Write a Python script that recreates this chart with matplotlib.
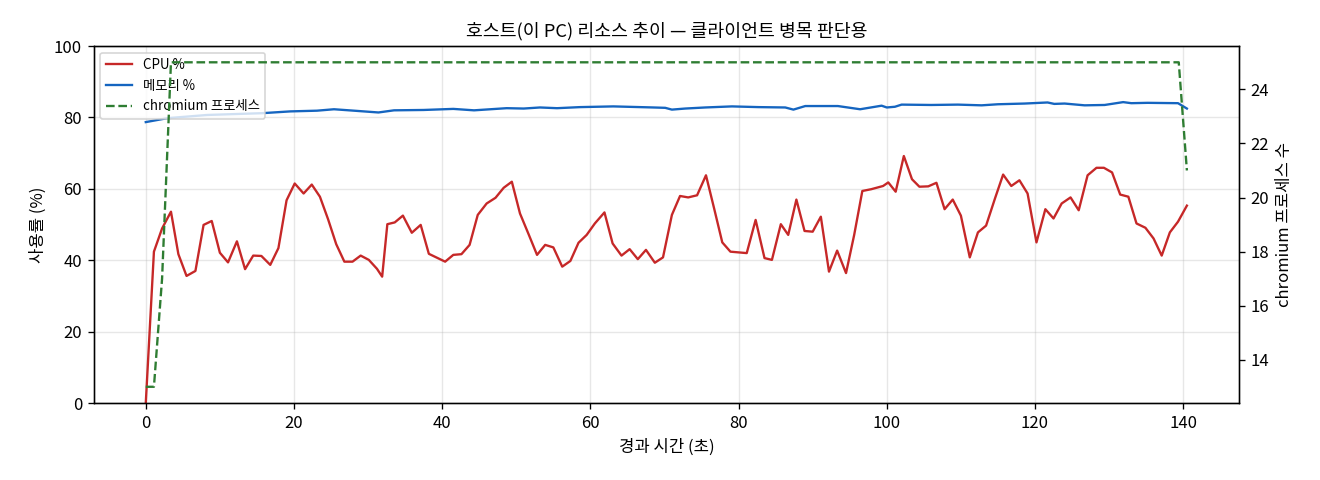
import matplotlib
matplotlib.use('Agg')
import matplotlib.pyplot as plt

plt.rcParams['font.family'] = ['Noto Sans CJK KR', 'DejaVu Sans']

# elapsed seconds / CPU %
t = [0.0, 1.1, 2.2, 3.4, 4.4, 5.5, 6.7, 7.8, 8.9, 10.0,
     11.1, 12.3, 13.4, 14.5, 15.6, 16.8, 17.9, 19.0, 20.1, 21.3,
     22.4, 23.5, 24.6, 25.7, 26.8, 27.9, 29.0, 30.1, 31.2, 31.9,
     32.6, 33.6, 34.7, 35.9, 37.1, 38.2, 39.3, 40.4, 41.5, 42.6,
     43.7, 44.8, 46.0, 47.2, 48.3, 49.4, 50.5, 51.7, 52.8, 53.9,
     55.0, 56.2, 57.3, 58.4, 59.5, 60.6, 61.9, 63.0, 64.2, 65.3,
     66.4, 67.5, 68.7, 69.8, 71.0, 72.1, 73.2, 74.4, 75.6, 76.7,
     77.8, 78.9, 80.0, 81.1, 82.3, 83.5, 84.5, 85.7, 86.7, 87.8,
     88.9, 90.0, 91.1, 92.2, 93.3, 94.5, 95.6, 96.7, 97.9, 99.5,
     100.2, 101.2, 102.3, 103.4, 104.4, 105.6, 106.7, 107.8, 108.9, 110.0,
     111.2, 112.3, 113.4, 114.6, 115.7, 116.8, 117.9, 119.0, 120.2, 121.4,
     122.5, 123.6, 124.8, 125.9, 127.1, 128.3, 129.3, 130.4, 131.5, 132.6,
     133.7, 134.9, 136.0, 137.1, 138.2, 139.3, 140.5]
cpu = [0.0, 42.4, 48.9, 53.6, 41.7, 35.6, 37.0, 49.9, 51.0, 42.1,
       39.4, 45.3, 37.5, 41.3, 41.2, 38.7, 43.4, 56.8, 61.5, 58.7,
       61.2, 57.8, 51.5, 44.5, 39.6, 39.6, 41.3, 40.1, 37.6, 35.4,
       50.1, 50.6, 52.5, 47.7, 49.9, 41.8, 40.7, 39.6, 41.5, 41.7,
       44.3, 52.7, 55.9, 57.5, 60.3, 62.0, 53.1, 47.1, 41.5, 44.3,
       43.6, 38.2, 39.8, 44.9, 47.1, 50.3, 53.4, 44.7, 41.3, 43.1,
       40.3, 42.9, 39.3, 40.8, 52.7, 58.0, 57.6, 58.2, 63.8, 54.5,
       45.0, 42.4, 42.2, 42.0, 51.3, 40.6, 40.1, 50.1, 47.1, 57.0,
       48.2, 48.0, 52.2, 36.8, 42.7, 36.4, 47.1, 59.4, 59.9, 60.8,
       61.8, 59.2, 69.2, 62.7, 60.6, 60.7, 61.7, 54.3, 57.0, 52.5,
       40.8, 47.8, 49.7, 57.3, 64.0, 60.8, 62.4, 58.7, 45.0, 54.3,
       51.7, 55.9, 57.6, 54.0, 63.8, 65.9, 65.9, 64.6, 58.4, 57.8,
       50.3, 49.1, 46.1, 41.3, 47.8, 50.8, 55.3]

# memory %
mem_t = [0.0, 2.9, 8.3, 15.7, 19.5, 23.1, 25.4, 28.1, 31.4, 33.5,
         37.5, 41.5, 44.3, 48.7, 51.0, 53.2, 55.5, 58.6, 63.1, 68.5,
         70.1, 71.0, 72.8, 75.5, 79.1, 82.7, 86.3, 87.4, 89.0, 93.4,
         96.4, 99.3, 100.0, 101.1, 102.0, 106.0, 109.6, 112.8, 115.0, 118.6,
         121.7, 122.6, 124.0, 126.7, 129.4, 131.9, 133.0, 135.2, 139.3, 140.5]
mem = [78.7, 79.8, 80.7, 81.2, 81.7, 81.9, 82.3, 81.9, 81.4, 82.0,
       82.1, 82.4, 82.0, 82.6, 82.5, 82.8, 82.6, 82.9, 83.1, 82.8,
       82.7, 82.2, 82.5, 82.8, 83.1, 82.9, 82.8, 82.2, 83.2, 83.2,
       82.3, 83.3, 82.8, 83.0, 83.6, 83.5, 83.6, 83.4, 83.7, 83.9,
       84.2, 83.8, 83.9, 83.4, 83.5, 84.3, 84.0, 84.1, 84.0, 82.5]

# chromium process count
proc_t = [0.0, 1.1, 2.2, 3.4, 139.4, 140.5]
proc = [13, 13, 17, 25, 25, 21]

fig, ax = plt.subplots(figsize=(11, 4), dpi=120)
fig.subplots_adjust(left=0.071, right=0.9386, bottom=0.1604, top=0.904)

l1, = ax.plot(t, cpu, color='#c62828', lw=1.4, label='CPU %')
l2, = ax.plot(mem_t, mem, color='#1565c0', lw=1.4, label='메모리 %')
ax.set_ylim(0, 100)
ax.set_xlabel('경과 시간 (초)')
ax.set_ylabel('사용률 (%)')
ax.grid(alpha=0.3)

ax2 = ax.twinx()
l3, = ax2.plot(proc_t, proc, color='#2e7d32', lw=1.4, ls='--', label='chromium 프로세스')
ax2.set_ylabel('chromium 프로세스 수')

ax.legend(handles=[l1, l2, l3], loc='upper left', fontsize=8)
ax.set_title('호스트(이 PC) 리소스 추이 — 클라이언트 병목 판단용', fontsize=11)

fig.savefig('out.png')
